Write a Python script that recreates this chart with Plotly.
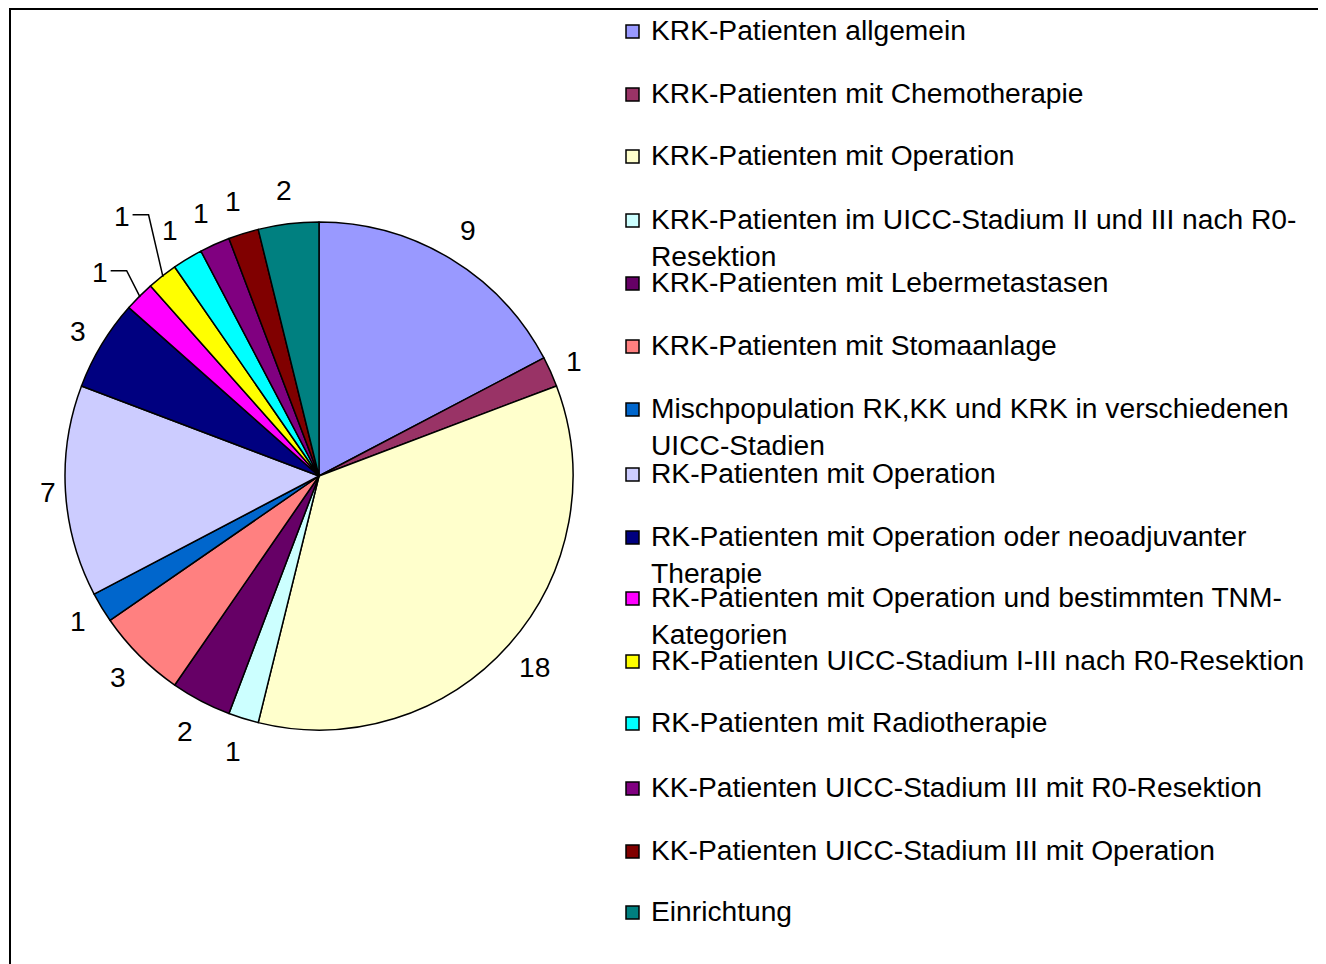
import math
import plotly.graph_objects as go

# ---- data ----
labels = [
    "KRK-Patienten allgemein",
    "KRK-Patienten mit Chemotherapie",
    "KRK-Patienten mit Operation",
    "KRK-Patienten im UICC-Stadium II und III nach R0-|Resektion",
    "KRK-Patienten mit Lebermetastasen",
    "KRK-Patienten mit Stomaanlage",
    "Mischpopulation RK,KK und KRK in verschiedenen|UICC-Stadien",
    "RK-Patienten mit Operation",
    "RK-Patienten mit Operation oder neoadjuvanter|Therapie",
    "RK-Patienten mit Operation und bestimmten TNM-|Kategorien",
    "RK-Patienten UICC-Stadium I-III nach R0-Resektion",
    "RK-Patienten mit Radiotherapie",
    "KK-Patienten UICC-Stadium III mit R0-Resektion",
    "KK-Patienten UICC-Stadium III mit Operation",
    "Einrichtung",
]
values = [9, 1, 18, 1, 2, 3, 1, 7, 3, 1, 1, 1, 1, 1, 2]
colors = [
    "#9999FF", "#993366", "#FFFFCC", "#CCFFFF", "#660066", "#FF8080",
    "#0066CC", "#CCCCFF", "#000080", "#FF00FF", "#FFFF00", "#00FFFF",
    "#800080", "#800000", "#008080",
]

# ---- layout constants (pixels of the page) ----
OFF = 8                      # default body margin of the html page
W, H = 1318, 956             # figure size so that page == 1326x964
FONT = "Liberation Sans, Arial, sans-serif"
FS = 28.2
CX, CY, R = 319, 476, 254    # pie centre / radius on the page
LABEL_GAP = 12
# manual label moves with leader lines (index -> dx, dy in px)
label_nudge = {9: (-18, -3), 10: (-21, -35)}
legend_y = [31, 94, 156, 220, 283, 346, 409, 474, 537, 598, 661, 723, 788, 851, 912]


def px(x):
    return (x - OFF) / W


def py(y):
    return 1 - (y - OFF) / H


plain_labels = [l.replace("|", "") for l in labels]

fig = go.Figure()
fig.add_trace(go.Pie(
    labels=plain_labels,
    values=values,
    sort=False,
    direction="clockwise",
    rotation=0,
    marker=dict(colors=colors, line=dict(color="black", width=1.5)),
    textinfo="none",
    showlegend=False,
    domain=dict(x=[px(CX - R), px(CX + R)], y=[py(CY + R), py(CY - R)]),
    hoverinfo="label+value",
))

shapes = []
annotations = []

# ---- data labels placed at each slice's mid-angle ----
total = sum(values)
cum = 0
for i, v in enumerate(values):
    theta = 2 * math.pi * (cum + v / 2) / total
    cum += v
    ux, uy = math.sin(theta), -math.cos(theta)
    txt = str(v)
    w2, h2 = 4.5 * len(txt), 22
    d = R + LABEL_GAP + abs(ux) * w2 + abs(uy) * h2
    lx, ly = CX + ux * d, CY + uy * d
    if i in label_nudge:
        dx, dy = label_nudge[i]
        lx, ly = lx + dx, ly + dy
        ex, ey = CX + ux * (R - 1), CY + uy * (R - 1)
        path = "M {},{} L {},{} L {},{}".format(
            px(ex), py(ey), px(lx + 27), py(ly - 1), px(lx + 11), py(ly - 1))
        shapes.append(dict(type="path", xref="paper", yref="paper", path=path,
                           line=dict(color="black", width=1.5)))
    annotations.append(dict(
        xref="paper", yref="paper", x=px(lx), y=py(ly),
        xanchor="center", yanchor="middle", showarrow=False, text=txt,
        font=dict(family=FONT, size=FS, color="black"),
    ))

# ---- manual legend ----
for lab, col, yc in zip(labels, colors, legend_y):
    shapes.append(dict(
        type="rect", xref="paper", yref="paper",
        x0=px(626), x1=px(639), y0=py(yc - 6), y1=py(yc + 7),
        fillcolor=col, line=dict(color="black", width=1.5),
    ))
    annotations.append(dict(
        xref="paper", yref="paper", x=px(649), y=py(yc - 19),
        xanchor="left", yanchor="top", align="left", showarrow=False,
        text=lab.replace("|", "<br>"),
        font=dict(family=FONT, size=FS, color="black"),
    ))

# frame
shapes.append(dict(
    type="rect", xref="paper", yref="paper",
    x0=px(10), x1=1.02, y0=-0.02, y1=py(9),
    line=dict(color="black", width=2), fillcolor="rgba(0,0,0,0)",
))

fig.update_layout(
    width=W, height=H,
    margin=dict(l=0, r=0, t=0, b=0),
    paper_bgcolor="white", plot_bgcolor="white",
    shapes=shapes, annotations=annotations,
    font=dict(family=FONT, size=FS, color="black"),
)

fig.write_html("out.html")
